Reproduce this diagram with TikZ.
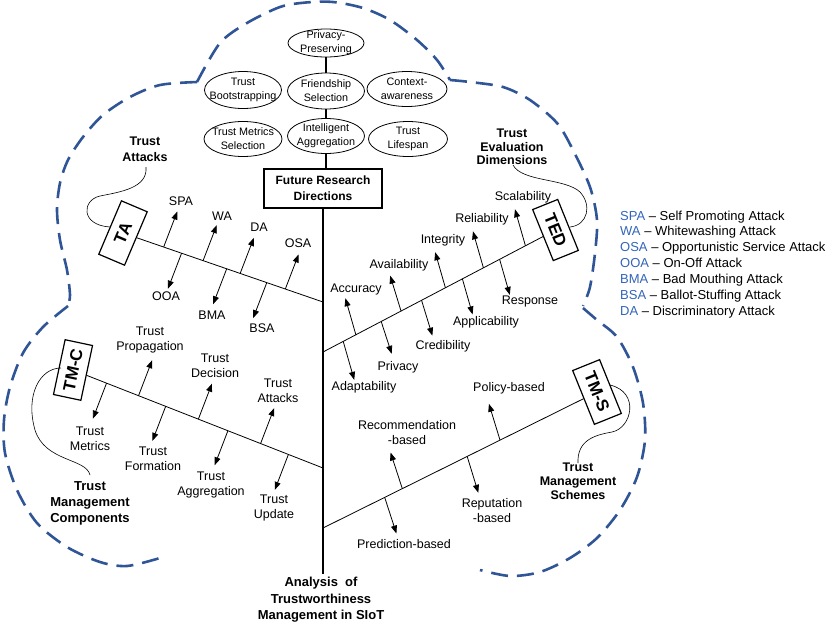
\documentclass[tikz,border=0pt]{standalone}
\usepackage{fontspec}
\setmainfont{Liberation Sans}
\usetikzlibrary{shapes.geometric,arrows.meta,calc}
\definecolor{cloudblue}{RGB}{47,85,151}
\definecolor{legblue}{RGB}{50,100,185}
% #1 spine point, #2 box node, #3 approx base point, #4 angle, #5 length, #6 name
\newcommand{\fbarrow}[6]{%
  \coordinate (#6) at ($(#1)!(#3)!(#2)$);
  \draw[arr] (#6) -- ($(#6)+(#4:#5)$) coordinate (#6t);}
\begin{document}
\begin{tikzpicture}[x=1pt,y=1pt,
  lbl/.style={font=\fontsize{12.5}{15}\selectfont, align=center, inner sep=0pt},
  blbl/.style={font=\bfseries\fontsize{12.5}{16}\selectfont, align=center, inner sep=0pt},
  otext/.style={font=\fontsize{10.8}{14}\selectfont, align=center, inner sep=0pt},
  oval/.style={ellipse, draw, line width=0.8pt, inner sep=0pt, minimum width=77pt, minimum height=35pt},
  tag/.style={draw, line width=1.2pt, inner sep=0pt, minimum width=57pt, minimum height=28pt, font=\bfseries\fontsize{17}{17}\selectfont},
  arr/.style={-{Triangle[length=8pt,width=6pt]}, line width=0.8pt},
  bone/.style={line width=0.8pt},
  spine/.style={line width=2pt},
  curl/.style={line width=0.6pt},
  cloudline/.style={draw=cloudblue, line width=2.6pt, dash pattern=on 17pt off 9pt},
  legtext/.style={font=\fontsize{13}{16}\selectfont, inner sep=0pt}
]
\useasboundingbox (0,0) rectangle (833,-633);

% ---------- dashed cloud ----------
\draw[cloudline] plot[smooth] coordinates {(197,-82) (220,-43) (247,-23) (280,-7) (306,-2.5) (333,-2) (363,-8) (390,-20) (417,-40) (437,-60) (450,-80)};
\draw[cloudline] plot[smooth] coordinates {(450,-80) (470,-82) (503,-87) (530,-100) (557,-123) (573,-150) (590,-187) (597,-220) (595,-253) (590,-287) (583,-306)};
\draw[cloudline] plot[smooth] coordinates {(583,-308) (597,-320) (617,-337) (633,-367) (643,-403) (645,-440) (637,-477) (620,-510) (597,-538) (570,-558) (540,-572) (510,-576) (480,-570)};
\draw[cloudline] plot[smooth] coordinates {(197,-82) (160,-85) (130,-97) (103,-115) (83,-137) (68,-160) (60,-183) (57,-210) (60,-240) (67,-270) (70,-295) (68,-306)};
\draw[cloudline] plot[smooth] coordinates {(68,-306) (43,-327) (23,-353) (10,-387) (4,-420) (5,-453) (17,-490) (37,-523) (67,-547) (100,-562) (127,-566) (160,-558)};

% ---------- future research ----------
\node[oval, minimum width=76pt, minimum height=28pt, label={[otext]center:Privacy-\\Preserving}] (pp) at (326,-43) {};
\node[oval, minimum height=37pt, label={[otext]center:Trust\\Bootstrapping}] (tb) at (243,-90) {};
\node[oval, minimum height=36pt, label={[otext]center:Friendship\\Selection}] (fs) at (326,-91) {};
\node[oval, minimum width=80pt, label={[otext]center:Context-\\awareness}] (ca) at (407,-89) {};
\node[oval, minimum width=78pt, label={[otext]center:Trust Metrics\\Selection}] (tms) at (243,-139) {};
\node[oval, label={[otext]center:Intelligent\\Aggregation}] (ia) at (326,-136) {};
\node[oval, minimum width=79pt, label={[otext]center:Trust\\Lifespan}] (tl) at (408,-139) {};
\node[draw, line width=1.2pt, minimum width=118pt, minimum height=39pt, inner sep=0pt, align=center,
      font=\bfseries\fontsize{12}{16}\selectfont] (frd) at (323,-188.5) {Future Research\\Directions};
\draw[spine] (pp.south) -- (fs.north);
\draw[spine] (fs.south) -- (ia.north);
\draw[spine] (ia.south) -- (ia.south |- frd.north);

% ---------- spine ----------
\coordinate (spb) at (323,-574);
\draw[spine] (frd.south) -- (spb);
\node[blbl, font=\bfseries\fontsize{13}{16.5}\selectfont] (ana) at (321,-600) {Analysis \ of\\Trustworthiness\\Management in SIoT};

% ---------- boxes ----------
\node[tag, rotate=67, minimum width=58pt] (ta) at (123,-233) {TA};
\node[tag, rotate=-68, minimum width=55pt, minimum height=27pt] (ted) at (555.5,-230) {TED};
\node[tag, rotate=78, minimum width=56pt] (tmc) at (73,-370) {TM-C};
\node[tag, rotate=-68, minimum width=58pt, minimum height=29pt] (tms2) at (597,-392) {TM-S};

\coordinate (sTA) at (323,-302);
\coordinate (sTED) at (323,-352);
\coordinate (sTMC) at (323,-468);
\coordinate (sTMS) at (323,-528);
\draw[bone] (sTA) -- (ta);
\draw[bone] (sTED) -- (ted);
\draw[bone] (sTMC) -- (tmc);
\draw[bone] (sTMS) -- (tms2);

% ---------- TA arrows ----------
\fbarrow{sTA}{ta}{164,-246}{69}{38}{aSPA}
\fbarrow{sTA}{ta}{182,-252}{249}{38}{aOOA}
\fbarrow{sTA}{ta}{204,-258}{69}{38}{aWA}
\fbarrow{sTA}{ta}{228,-265}{249}{38}{aBMA}
\fbarrow{sTA}{ta}{241,-271}{69}{38}{aDA}
\fbarrow{sTA}{ta}{267,-282}{249}{38}{aBSA}
\fbarrow{sTA}{ta}{286,-287}{69}{37}{aOSA}
\node[lbl] (lSPA) at (181,-201) {SPA};
\node[lbl] (lOOA) at (166,-296) {OOA};
\node[lbl] (lWA) at (222,-216) {WA};
\node[lbl] (lBMA) at (212,-315) {BMA};
\node[lbl] (lDA) at (259,-227) {DA};
\node[lbl] (lBSA) at (262,-328) {BSA};
\node[lbl] (lOSA) at (298,-243) {OSA};

% ---------- TED arrows ----------
\fbarrow{sTED}{ted}{356,-335}{106}{38}{eAcc}
\fbarrow{sTED}{ted}{343,-341}{-74}{40}{eAda}
\fbarrow{sTED}{ted}{382,-323}{-72}{34}{ePri}
\fbarrow{sTED}{ted}{401,-311}{107}{37}{eAva}
\fbarrow{sTED}{ted}{423,-303}{-73}{37}{eCre}
\fbarrow{sTED}{ted}{445,-287}{106}{37}{eInt}
\fbarrow{sTED}{ted}{463,-280}{-74}{37}{eApp}
\fbarrow{sTED}{ted}{483,-267}{106}{38}{eRel}
\fbarrow{sTED}{ted}{500,-260}{-74}{37}{eRes}
\fbarrow{sTED}{ted}{524,-243}{106}{38}{eSca}
\node[lbl] (lAcc) at (356,-289) {Accuracy};
\node[lbl] (lAda) at (364,-387) {Adaptability};
\node[lbl] (lPri) at (398,-367) {Privacy};
\node[lbl] (lAva) at (399,-265) {Availability};
\node[lbl] (lCre) at (443,-346) {Credibility};
\node[lbl] (lInt) at (443,-240) {Integrity};
\node[lbl] (lApp) at (486,-322) {Applicability};
\node[lbl] (lRel) at (482,-219) {Reliability};
\node[lbl] (lRes) at (530,-301) {Response};
\node[lbl] (lSca) at (523,-197) {Scalability};

% ---------- TM-C arrows ----------
\fbarrow{sTMC}{tmc}{105,-387}{249}{38}{cMet}
\fbarrow{sTMC}{tmc}{138,-397}{69}{38}{cPro}
\fbarrow{sTMC}{tmc}{165,-408}{249}{37}{cFor}
\fbarrow{sTMC}{tmc}{198,-420}{69}{38}{cDec}
\fbarrow{sTMC}{tmc}{227,-433}{249}{37}{cAgg}
\fbarrow{sTMC}{tmc}{260,-445}{69}{38}{cAtt}
\fbarrow{sTMC}{tmc}{287,-458}{249}{38}{cUpd}
\node[lbl] (lMet) at (90,-439) {Trust\\Metrics};
\node[lbl] (lPro) at (150,-340) {Trust\\Propagation};
\node[lbl] (lFor) at (153,-459) {Trust\\Formation};
\node[lbl] (lDec) at (215,-366) {Trust\\Decision};
\node[lbl] (lAgg) at (211,-485) {Trust\\Aggregation};
\node[lbl] (lAtt) at (278,-391) {Trust\\Attacks};
\node[lbl] (lUpd) at (274,-508) {Trust\\Update};

% ---------- TM-S arrows ----------
\fbarrow{sTMS}{tms2}{385,-498}{-72}{38}{sPre}
\fbarrow{sTMS}{tms2}{402,-488}{108}{38}{sRec}
\fbarrow{sTMS}{tms2}{467,-456}{-73}{38}{sRep}
\fbarrow{sTMS}{tms2}{499,-438}{107}{38}{sPol}
\node[lbl] (lPre) at (404,-544) {Prediction-based};
\node[lbl] (lRec) at (407,-433) {Recommendation\\-based};
\node[lbl] (lRep) at (492,-511) {Reputation\\-based};
\node[lbl] (lPol) at (509,-388) {Policy-based};

% ---------- group labels and curls ----------
\node[blbl] (gTA) at (145,-149) {Trust\\Attacks};
\node[blbl, font=\bfseries\fontsize{12.5}{13.5}\selectfont] (gTED) at (512,-147) {Trust\\Evaluation\\Dimensions};
\node[blbl, font=\bfseries\fontsize{13}{16}\selectfont] (gTMC) at (90,-503) {Trust\\Management\\Components};
\node[blbl, font=\bfseries\fontsize{12.5}{14}\selectfont] (gTMS) at (578,-481) {Trust\\Management\\Schemes};

\coordinate (kTA0) at (146,-167);  \coordinate (kTA1) at (110,-227);
\coordinate (kTED0) at (513,-165); \coordinate (kTED1) at (570,-227);
\coordinate (kTMC0) at (90,-475);  \coordinate (kTMC1) at (61,-368);
\coordinate (kTMS0) at (578,-463); \coordinate (kTMS1) at (610,-385);
\draw[curl] (kTA0) .. controls (148,-188) and (120,-192) .. (100,-196)
                   .. controls (82,-200) and (80,-225) .. (kTA1);
\draw[curl] (kTED0) .. controls (522,-182) and (565,-178) .. (580,-192)
                    .. controls (592,-205) and (588,-225) .. (kTED1);
\draw[curl] (kTMC0) .. controls (86,-458) and (45,-462) .. (35,-430)
                    .. controls (25,-395) and (40,-368) .. (kTMC1);
\draw[curl] (kTMS0) .. controls (577,-440) and (595,-435) .. (612,-432)
                    .. controls (632,-428) and (640,-392) .. (kTMS1);

% ---------- legend ----------
\foreach \ab/\tx/\yy/\nm in {SPA/Self Promoting Attack/216/lg1, WA/Whitewashing Attack/231/lg2,
    OSA/Opportunistic Service Attack/247/lg3, OOA/On-Off Attack/263/lg4,
    BMA/Bad Mouthing Attack/279/lg5, BSA/Ballot-Stuffing Attack/295/lg6,
    DA/Discriminatory Attack/311/lg7}
  \node[legtext, anchor=base west] (\nm) at (620,-\yy-4.7) {\textcolor{legblue}{\ab} – \tx};
\end{tikzpicture}
\end{document}
